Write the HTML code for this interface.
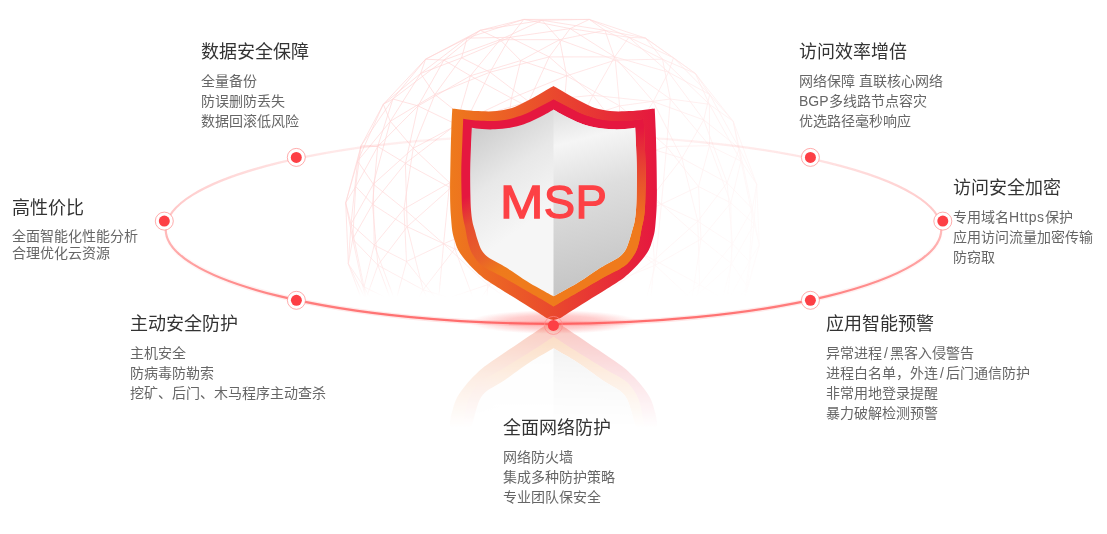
<!DOCTYPE html>
<html lang="zh-CN"><head><meta charset="utf-8">
<style>
html,body{margin:0;padding:0;background:#fff;}
body{width:1107px;height:534px;position:relative;overflow:hidden;font-family:"Liberation Sans",sans-serif;}
svg.bg{position:absolute;left:0;top:0;will-change:transform;}
.blk{position:absolute;white-space:nowrap;will-change:transform;}
.blk h3{margin:0;position:relative;top:0px;font-size:18px;font-weight:normal;color:#333;line-height:24px;}
.blk .sp{height:6.6px}
.blk p{margin:0;font-size:14px;color:#666;line-height:20px;}
</style></head><body>
<svg class="bg" width="1107" height="534" viewBox="0 0 1107 534">
<defs>
<linearGradient id="gfade" x1="0" y1="0" x2="0" y2="1" gradientUnits="objectBoundingBox">
<stop offset="0" stop-color="#fff"/><stop offset="0.8" stop-color="#fff" stop-opacity="0.85"/><stop offset="0.96" stop-color="#fff" stop-opacity="0.5"/><stop offset="1" stop-color="#fff" stop-opacity="0"/>
</linearGradient>
<mask id="globemask" maskUnits="userSpaceOnUse" x="0" y="0" width="1107" height="534">
<rect x="330" y="0" width="450" height="297" fill="url(#gfade)"/>
</mask>
<linearGradient id="gdiag" gradientUnits="userSpaceOnUse" x1="420" y1="100" x2="740" y2="280">
<stop offset="0" stop-color="#fff"/><stop offset="0.3" stop-color="#fff" stop-opacity="0.9"/><stop offset="1" stop-color="#fff" stop-opacity="0.15"/>
</linearGradient>
<mask id="globemask2" maskUnits="userSpaceOnUse" x="0" y="0" width="1107" height="534">
<rect x="330" y="0" width="450" height="300" fill="url(#gdiag)"/>
</mask>
<linearGradient id="ringg" gradientUnits="userSpaceOnUse" x1="0" y1="323" x2="0" y2="136">
<stop offset="0" stop-color="#ff4a4a" stop-opacity="0.78"/>
<stop offset="0.5" stop-color="#ff5a5a" stop-opacity="0.4"/>
<stop offset="0.85" stop-color="#ff6b6b" stop-opacity="0.22"/>
<stop offset="1" stop-color="#ff8080" stop-opacity="0.1"/>
</linearGradient>
<linearGradient id="ringglow" gradientUnits="userSpaceOnUse" x1="0" y1="323" x2="0" y2="230">
<stop offset="0" stop-color="#ff5050" stop-opacity="0.15"/>
<stop offset="1" stop-color="#ff6b6b" stop-opacity="0"/>
</linearGradient>
<radialGradient id="glow" cx="0.5" cy="0.5" r="0.5">
<stop offset="0" stop-color="#ff5050" stop-opacity="0.42"/>
<stop offset="0.55" stop-color="#ff5a5a" stop-opacity="0.3"/>
<stop offset="0.8" stop-color="#ff6060" stop-opacity="0.14"/>
<stop offset="1" stop-color="#ff8080" stop-opacity="0"/>
</radialGradient>
<linearGradient id="outerg" gradientUnits="userSpaceOnUse" x1="450" y1="0" x2="657" y2="0">
<stop offset="0" stop-color="#ee7a1c"/><stop offset="1" stop-color="#e5173f"/>
</linearGradient>
<linearGradient id="midg" gradientUnits="userSpaceOnUse" x1="461" y1="200" x2="511" y2="287">
<stop offset="0" stop-color="#e5173f"/><stop offset="0.25" stop-color="#e64c2f"/><stop offset="0.6" stop-color="#e8602a"/><stop offset="0.8" stop-color="#ee7a1c"/><stop offset="1" stop-color="#ef7b1c"/>
</linearGradient>
<linearGradient id="midgR" gradientUnits="userSpaceOnUse" x1="0" y1="128" x2="0" y2="228">
<stop offset="0" stop-color="#e5173f"/><stop offset="0.3" stop-color="#e63a35"/><stop offset="0.55" stop-color="#e8552c"/><stop offset="1" stop-color="#ef7a1c"/>
</linearGradient>
<linearGradient id="silverL" gradientUnits="userSpaceOnUse" x1="478" y1="128" x2="540" y2="215">
<stop offset="0" stop-color="#cdcdcd"/><stop offset="0.5" stop-color="#e8e8e8"/><stop offset="1" stop-color="#f6f6f6"/>
</linearGradient>
<linearGradient id="silverR" gradientUnits="userSpaceOnUse" x1="565" y1="112" x2="610" y2="285">
<stop offset="0" stop-color="#e2e2e2"/><stop offset="0.17" stop-color="#f5f5f5"/><stop offset="0.45" stop-color="#dedede"/><stop offset="1" stop-color="#c4c4c4"/>
</linearGradient>
<filter id="soft" x="-5%" y="-20%" width="110%" height="140%"><feGaussianBlur stdDeviation="0.45"/></filter>
<clipPath id="clipR"><rect x="553.5" y="0" width="200" height="534"/></clipPath>
<linearGradient id="reflg" x1="0" y1="0" x2="0" y2="1">
<stop offset="0" stop-color="#fff" stop-opacity="0.3"/><stop offset="0.5" stop-color="#fff" stop-opacity="0.13"/><stop offset="1" stop-color="#fff" stop-opacity="0"/>
</linearGradient>
<mask id="reflmask" maskUnits="userSpaceOnUse" x="0" y="0" width="1107" height="534">
<rect x="430" y="322" width="250" height="106" fill="url(#reflg)"/>
</mask>
<g id="shield">
<path d="M553.50 86.00C555.02 86.87 559.52 89.40 562.60 91.20C565.68 93.00 568.68 94.95 572.00 96.80C575.32 98.65 578.67 100.43 582.50 102.30C586.33 104.17 590.42 106.55 595.00 108.00C599.58 109.45 605.00 110.45 610.00 111.00C615.00 111.55 619.83 111.42 625.00 111.30C630.17 111.18 636.05 110.75 641.00 110.30C645.95 109.85 652.42 108.88 654.70 108.60C654.87 112.17 655.40 121.43 655.70 130.00C656.00 138.57 656.30 150.00 656.50 160.00C656.70 170.00 656.87 182.50 656.90 190.00C656.93 197.50 656.83 200.67 656.70 205.00C656.57 209.33 656.43 211.67 656.10 216.00C655.77 220.33 655.33 226.92 654.70 231.00C654.07 235.08 653.28 237.33 652.30 240.50C651.32 243.67 650.55 246.75 648.80 250.00C647.05 253.25 644.52 256.67 641.80 260.00C639.08 263.33 635.38 267.13 632.50 270.00C629.62 272.87 627.08 275.13 624.50 277.20C621.92 279.27 619.92 280.48 617.00 282.40C614.08 284.32 610.33 286.60 607.00 288.70C603.67 290.80 600.33 292.92 597.00 295.00C593.67 297.08 590.33 299.12 587.00 301.20C583.67 303.28 580.50 305.30 577.00 307.50C573.50 309.70 569.00 312.55 566.00 314.40C563.00 316.25 561.08 317.63 559.00 318.60C556.92 319.57 554.42 319.93 553.50 320.20C552.58 319.93 550.08 319.57 548.00 318.60C545.92 317.63 544.00 316.25 541.00 314.40C538.00 312.55 533.50 309.70 530.00 307.50C526.50 305.30 523.33 303.28 520.00 301.20C516.67 299.12 513.33 297.08 510.00 295.00C506.67 292.92 503.33 290.80 500.00 288.70C496.67 286.60 492.92 284.32 490.00 282.40C487.08 280.48 485.08 279.27 482.50 277.20C479.92 275.13 477.38 272.87 474.50 270.00C471.62 267.13 467.92 263.33 465.20 260.00C462.48 256.67 459.95 253.25 458.20 250.00C456.45 246.75 455.68 243.67 454.70 240.50C453.72 237.33 452.93 235.08 452.30 231.00C451.67 226.92 451.23 220.33 450.90 216.00C450.57 211.67 450.43 209.33 450.30 205.00C450.17 200.67 450.07 197.50 450.10 190.00C450.13 182.50 450.30 170.00 450.50 160.00C450.70 150.00 451.00 138.57 451.30 130.00C451.60 121.43 452.13 112.17 452.30 108.60C454.58 108.88 461.05 109.85 466.00 110.30C470.95 110.75 476.83 111.18 482.00 111.30C487.17 111.42 492.00 111.55 497.00 111.00C502.00 110.45 507.42 109.45 512.00 108.00C516.58 106.55 520.67 104.17 524.50 102.30C528.33 100.43 531.68 98.65 535.00 96.80C538.32 94.95 541.32 93.00 544.40 91.20C547.48 89.40 551.98 86.87 553.50 86.00Z" fill="url(#outerg)"/>
<path d="M553.50 99.50C554.92 100.25 558.92 102.37 562.00 104.00C565.08 105.63 568.50 107.53 572.00 109.30C575.50 111.07 578.83 113.00 583.00 114.60C587.17 116.20 592.17 117.83 597.00 118.90C601.83 119.97 606.67 120.72 612.00 121.00C617.33 121.28 623.70 120.98 629.00 120.60C634.30 120.22 641.33 119.02 643.80 118.70C643.93 122.25 644.28 131.45 644.60 140.00C644.92 148.55 645.57 160.83 645.70 170.00C645.83 179.17 645.55 188.33 645.40 195.00C645.25 201.67 645.12 205.83 644.80 210.00C644.48 214.17 644.02 217.00 643.50 220.00C642.98 223.00 642.37 224.67 641.70 228.00C641.03 231.33 640.35 236.33 639.50 240.00C638.65 243.67 637.85 247.00 636.60 250.00C635.35 253.00 633.60 255.67 632.00 258.00C630.40 260.33 628.67 262.42 627.00 264.00C625.33 265.58 623.67 266.40 622.00 267.50C620.33 268.60 619.50 269.25 617.00 270.60C614.50 271.95 610.33 273.83 607.00 275.60C603.67 277.37 600.33 279.32 597.00 281.20C593.67 283.08 590.33 284.98 587.00 286.90C583.67 288.82 580.67 290.58 577.00 292.70C573.33 294.82 568.92 297.28 565.00 299.60C561.08 301.92 555.42 305.43 553.50 306.60C551.58 305.43 545.92 301.92 542.00 299.60C538.08 297.28 533.67 294.82 530.00 292.70C526.33 290.58 523.33 288.82 520.00 286.90C516.67 284.98 513.33 283.08 510.00 281.20C506.67 279.32 503.33 277.37 500.00 275.60C496.67 273.83 492.50 271.95 490.00 270.60C487.50 269.25 486.67 268.60 485.00 267.50C483.33 266.40 481.67 265.58 480.00 264.00C478.33 262.42 476.60 260.33 475.00 258.00C473.40 255.67 471.65 253.00 470.40 250.00C469.15 247.00 468.35 243.67 467.50 240.00C466.65 236.33 465.97 231.33 465.30 228.00C464.63 224.67 464.02 223.00 463.50 220.00C462.98 217.00 462.52 214.17 462.20 210.00C461.88 205.83 461.75 201.67 461.60 195.00C461.45 188.33 461.17 179.17 461.30 170.00C461.43 160.83 462.08 148.55 462.40 140.00C462.72 131.45 463.07 122.25 463.20 118.70C465.67 119.02 472.70 120.22 478.00 120.60C483.30 120.98 489.67 121.28 495.00 121.00C500.33 120.72 505.17 119.97 510.00 118.90C514.83 117.83 519.83 116.20 524.00 114.60C528.17 113.00 531.50 111.07 535.00 109.30C538.50 107.53 541.92 105.63 545.00 104.00C548.08 102.37 552.08 100.25 553.50 99.50Z" fill="url(#midg)"/>
<path d="M553.50 99.50C554.92 100.25 558.92 102.37 562.00 104.00C565.08 105.63 568.50 107.53 572.00 109.30C575.50 111.07 578.83 113.00 583.00 114.60C587.17 116.20 592.17 117.83 597.00 118.90C601.83 119.97 606.67 120.72 612.00 121.00C617.33 121.28 623.70 120.98 629.00 120.60C634.30 120.22 641.33 119.02 643.80 118.70C643.93 122.25 644.28 131.45 644.60 140.00C644.92 148.55 645.57 160.83 645.70 170.00C645.83 179.17 645.55 188.33 645.40 195.00C645.25 201.67 645.12 205.83 644.80 210.00C644.48 214.17 644.02 217.00 643.50 220.00C642.98 223.00 642.37 224.67 641.70 228.00C641.03 231.33 640.35 236.33 639.50 240.00C638.65 243.67 637.85 247.00 636.60 250.00C635.35 253.00 633.60 255.67 632.00 258.00C630.40 260.33 628.67 262.42 627.00 264.00C625.33 265.58 623.67 266.40 622.00 267.50C620.33 268.60 619.50 269.25 617.00 270.60C614.50 271.95 610.33 273.83 607.00 275.60C603.67 277.37 600.33 279.32 597.00 281.20C593.67 283.08 590.33 284.98 587.00 286.90C583.67 288.82 580.67 290.58 577.00 292.70C573.33 294.82 568.92 297.28 565.00 299.60C561.08 301.92 555.42 305.43 553.50 306.60C551.58 305.43 545.92 301.92 542.00 299.60C538.08 297.28 533.67 294.82 530.00 292.70C526.33 290.58 523.33 288.82 520.00 286.90C516.67 284.98 513.33 283.08 510.00 281.20C506.67 279.32 503.33 277.37 500.00 275.60C496.67 273.83 492.50 271.95 490.00 270.60C487.50 269.25 486.67 268.60 485.00 267.50C483.33 266.40 481.67 265.58 480.00 264.00C478.33 262.42 476.60 260.33 475.00 258.00C473.40 255.67 471.65 253.00 470.40 250.00C469.15 247.00 468.35 243.67 467.50 240.00C466.65 236.33 465.97 231.33 465.30 228.00C464.63 224.67 464.02 223.00 463.50 220.00C462.98 217.00 462.52 214.17 462.20 210.00C461.88 205.83 461.75 201.67 461.60 195.00C461.45 188.33 461.17 179.17 461.30 170.00C461.43 160.83 462.08 148.55 462.40 140.00C462.72 131.45 463.07 122.25 463.20 118.70C465.67 119.02 472.70 120.22 478.00 120.60C483.30 120.98 489.67 121.28 495.00 121.00C500.33 120.72 505.17 119.97 510.00 118.90C514.83 117.83 519.83 116.20 524.00 114.60C528.17 113.00 531.50 111.07 535.00 109.30C538.50 107.53 541.92 105.63 545.00 104.00C548.08 102.37 552.08 100.25 553.50 99.50Z" fill="url(#midgR)" clip-path="url(#clipR)"/>
<path d="M553.50 109.60C554.92 110.43 558.92 112.93 562.00 114.60C565.08 116.27 568.50 118.00 572.00 119.60C575.50 121.20 578.83 122.83 583.00 124.20C587.17 125.57 592.17 126.95 597.00 127.80C601.83 128.65 607.33 129.08 612.00 129.30C616.67 129.52 621.13 129.37 625.00 129.10C628.87 128.83 633.50 127.93 635.20 127.70C635.33 130.58 635.73 137.95 636.00 145.00C636.27 152.05 636.70 161.67 636.80 170.00C636.90 178.33 636.73 188.33 636.60 195.00C636.47 201.67 636.35 205.50 636.00 210.00C635.65 214.50 635.12 218.67 634.50 222.00C633.88 225.33 633.15 227.00 632.30 230.00C631.45 233.00 630.53 236.67 629.40 240.00C628.27 243.33 627.15 247.20 625.50 250.00C623.85 252.80 621.67 254.97 619.50 256.80C617.33 258.63 614.92 259.63 612.50 261.00C610.08 262.37 607.58 263.50 605.00 265.00C602.42 266.50 600.00 268.03 597.00 270.00C594.00 271.97 590.33 274.58 587.00 276.80C583.67 279.02 580.67 281.10 577.00 283.30C573.33 285.50 568.92 287.83 565.00 290.00C561.08 292.17 555.42 295.25 553.50 296.30C551.58 295.25 545.92 292.17 542.00 290.00C538.08 287.83 533.67 285.50 530.00 283.30C526.33 281.10 523.33 279.02 520.00 276.80C516.67 274.58 513.00 271.97 510.00 270.00C507.00 268.03 504.58 266.50 502.00 265.00C499.42 263.50 496.92 262.37 494.50 261.00C492.08 259.63 489.67 258.63 487.50 256.80C485.33 254.97 483.15 252.80 481.50 250.00C479.85 247.20 478.73 243.33 477.60 240.00C476.47 236.67 475.55 233.00 474.70 230.00C473.85 227.00 473.12 225.33 472.50 222.00C471.88 218.67 471.35 214.50 471.00 210.00C470.65 205.50 470.53 201.67 470.40 195.00C470.27 188.33 470.10 178.33 470.20 170.00C470.30 161.67 470.73 152.05 471.00 145.00C471.27 137.95 471.67 130.58 471.80 127.70C473.50 127.93 478.13 128.83 482.00 129.10C485.87 129.37 490.33 129.52 495.00 129.30C499.67 129.08 505.17 128.65 510.00 127.80C514.83 126.95 519.83 125.57 524.00 124.20C528.17 122.83 531.50 121.20 535.00 119.60C538.50 118.00 541.92 116.27 545.00 114.60C548.08 112.93 552.08 110.43 553.50 109.60Z" fill="url(#silverL)"/>
<path d="M553.50 109.60C554.92 110.43 558.92 112.93 562.00 114.60C565.08 116.27 568.50 118.00 572.00 119.60C575.50 121.20 578.83 122.83 583.00 124.20C587.17 125.57 592.17 126.95 597.00 127.80C601.83 128.65 607.33 129.08 612.00 129.30C616.67 129.52 621.13 129.37 625.00 129.10C628.87 128.83 633.50 127.93 635.20 127.70C635.33 130.58 635.73 137.95 636.00 145.00C636.27 152.05 636.70 161.67 636.80 170.00C636.90 178.33 636.73 188.33 636.60 195.00C636.47 201.67 636.35 205.50 636.00 210.00C635.65 214.50 635.12 218.67 634.50 222.00C633.88 225.33 633.15 227.00 632.30 230.00C631.45 233.00 630.53 236.67 629.40 240.00C628.27 243.33 627.15 247.20 625.50 250.00C623.85 252.80 621.67 254.97 619.50 256.80C617.33 258.63 614.92 259.63 612.50 261.00C610.08 262.37 607.58 263.50 605.00 265.00C602.42 266.50 600.00 268.03 597.00 270.00C594.00 271.97 590.33 274.58 587.00 276.80C583.67 279.02 580.67 281.10 577.00 283.30C573.33 285.50 568.92 287.83 565.00 290.00C561.08 292.17 555.42 295.25 553.50 296.30C551.58 295.25 545.92 292.17 542.00 290.00C538.08 287.83 533.67 285.50 530.00 283.30C526.33 281.10 523.33 279.02 520.00 276.80C516.67 274.58 513.00 271.97 510.00 270.00C507.00 268.03 504.58 266.50 502.00 265.00C499.42 263.50 496.92 262.37 494.50 261.00C492.08 259.63 489.67 258.63 487.50 256.80C485.33 254.97 483.15 252.80 481.50 250.00C479.85 247.20 478.73 243.33 477.60 240.00C476.47 236.67 475.55 233.00 474.70 230.00C473.85 227.00 473.12 225.33 472.50 222.00C471.88 218.67 471.35 214.50 471.00 210.00C470.65 205.50 470.53 201.67 470.40 195.00C470.27 188.33 470.10 178.33 470.20 170.00C470.30 161.67 470.73 152.05 471.00 145.00C471.27 137.95 471.67 130.58 471.80 127.70C473.50 127.93 478.13 128.83 482.00 129.10C485.87 129.37 490.33 129.52 495.00 129.30C499.67 129.08 505.17 128.65 510.00 127.80C514.83 126.95 519.83 125.57 524.00 124.20C528.17 122.83 531.50 121.20 535.00 119.60C538.50 118.00 541.92 116.27 545.00 114.60C548.08 112.93 552.08 110.43 553.50 109.60Z" fill="url(#silverR)" clip-path="url(#clipR)"/>
</g>
</defs>
<g mask="url(#globemask2)"><g mask="url(#globemask)" stroke="#ff8080" stroke-width="0.7" fill="none" opacity="0.34">
<path d="M559.6 39.7L542.1 20.3M615.3 60.1L566.7 75.8M654.3 260.1L648.6 323.6M733.2 121.3L741.0 161.1M500.1 39.7L480.3 30.3M602.9 181.9L569.4 141.9M392.9 99.0L443.9 60.1M500.1 39.7L443.9 60.1M377.7 146.5L405.4 163.3M576.3 346.4L594.6 289.8M645.5 38.1L695.4 73.5M661.4 204.2L608.7 226.7M365.7 299.7L352.7 239.1M619.6 105.9L617.3 163.3M608.7 226.7L551.0 248.9M461.6 57.8L509.9 37.3M355.7 186.5L352.7 239.1M673.5 57.8L668.5 72.2M670.3 99.0L615.3 60.1M628.9 141.9L592.9 95.3M373.3 184.2L357.6 161.1M502.1 266.1L501.1 213.5M520.7 60.6L500.1 39.7M520.7 60.6L470.4 75.8M698.5 186.5L661.4 204.2M570.1 28.6L549.2 56.9M730.8 202.9L741.0 161.1M752.3 208.9L727.1 182.8M407.2 226.7L372.5 204.2M655.3 265.2L638.3 328.1M654.3 260.1L699.6 284.7M653.2 101.6L681.9 158.2M709.5 145.7L670.3 99.0M604.9 30.3L662.5 59.2M372.5 204.2L377.9 265.2M480.3 30.3L443.9 60.1M668.5 72.2L709.7 94.5M449.7 182.8L413.2 148.3M670.3 99.0L619.6 105.9M351.0 224.0L364.0 286.9M470.4 75.8L511.5 98.2M559.6 39.7L566.7 75.8M466.7 119.9L490.0 72.2M661.4 204.2L655.3 265.2M698.5 186.5L666.6 146.5M365.7 299.7L348.3 263.8M434.9 94.5L390.3 121.3M653.2 101.6L614.7 56.9M451.8 346.4L423.1 289.8M732.5 243.8L699.6 284.7M407.2 226.7L405.4 163.3M655.3 265.2L691.8 299.7M510.4 158.2L466.7 119.9M500.1 39.7L542.1 20.3M348.3 263.8L364.0 286.9M377.9 265.2L401.3 328.1M603.9 234.5L654.3 260.1M496.3 221.3L443.6 243.8M602.9 181.9L603.9 234.5M504.2 152.7L450.7 187.9M401.3 328.1L423.1 289.8M443.6 243.8L406.5 261.5M355.7 186.5L377.7 146.5M511.5 98.2L456.4 124.4M666.6 146.5L670.3 99.0M730.8 202.9L731.7 263.8M668.5 72.2L703.7 119.9M554.0 199.1L603.9 234.5M377.7 146.5L418.1 105.9M600.8 295.3L548.4 260.1M741.0 161.1L756.7 184.2M383.3 104.3L420.6 73.5M548.4 260.1L603.9 234.5M559.6 39.7L615.3 60.1M466.7 119.9L413.2 148.3M361.1 145.7L345.7 202.9M496.3 221.3L449.7 182.8M501.1 213.5L551.0 248.9M438.4 301.5L487.7 284.7M425.6 59.2L420.6 73.5M406.5 261.5L395.5 302.3M701.0 239.1L655.3 265.2M701.0 239.1L731.7 263.8M593.5 349.8L600.8 295.3M371.8 326.7L348.3 263.8M352.7 239.1L377.9 265.2M510.4 158.2L528.7 101.6M470.4 75.8L456.4 124.4M673.5 57.8L695.4 73.5M754.0 224.0L747.4 286.9M361.1 145.7L383.3 104.3M709.5 145.7L730.8 202.9M566.7 75.8L562.4 124.4M739.3 148.3L733.2 121.3M434.9 94.5L420.6 73.5M528.7 101.6L466.7 119.9M569.4 141.9L592.9 95.3M681.9 158.2L703.7 119.9M351.0 224.0L348.3 263.8M383.3 104.3L425.6 59.2M589.3 19.4L523.8 19.4M759.3 245.1L756.7 184.2M697.8 221.3L681.9 158.2M668.5 72.2L653.2 101.6M520.7 60.6L511.5 98.2M562.4 124.4L617.3 163.3M374.2 245.1L395.5 302.3M650.2 199.1L654.3 260.1M470.4 75.8L443.9 60.1M357.6 161.1L390.3 121.3M662.5 59.2L615.3 60.1M749.3 261.5L759.3 245.1M691.8 299.7L714.7 326.7M604.9 30.3L589.3 19.4M619.6 105.9L566.7 75.8M404.0 208.9L374.2 245.1M501.1 213.5L504.2 152.7M413.2 148.3L390.3 121.3M754.0 224.0L730.8 202.9M549.2 56.9L509.9 37.3M490.0 72.2L509.9 37.3M504.2 152.7L511.5 98.2M554.0 199.1L569.4 141.9M709.5 145.7L741.0 161.1M502.1 266.1L476.1 306.1M374.2 245.1L373.3 184.2M709.4 104.3L662.5 59.2M727.1 182.8L681.9 158.2M351.0 224.0L357.6 161.1M405.4 163.3L372.5 204.2M628.9 141.9L681.9 158.2M628.9 37.3L570.1 28.6M743.9 302.3L747.4 286.9M602.9 181.9L628.9 141.9M628.9 37.3L589.3 19.4M542.1 20.3L589.3 19.4M614.7 56.9L549.2 56.9M602.9 181.9L650.2 199.1M732.5 243.8L752.3 208.9M759.3 245.1L754.0 224.0M467.0 38.1L425.6 59.2M697.8 221.3L727.1 182.8M454.8 248.9L407.2 226.7M562.4 124.4L556.6 187.9M443.6 243.8L438.4 301.5M559.6 39.7L500.1 39.7M569.4 141.9L510.4 158.2M450.7 187.9L405.4 163.3M511.5 98.2L562.4 124.4M535.6 306.1L551.0 248.9M691.8 299.7L731.7 263.8M604.9 30.3L542.1 20.3M413.2 148.3L434.9 94.5M699.6 284.7L648.6 323.6M407.2 226.7L377.9 265.2M600.8 295.3L654.3 260.1M490.0 72.2L461.6 57.8M490.0 72.2L549.2 56.9M496.3 221.3L487.7 284.7M709.4 104.3L670.3 99.0M695.4 73.5L733.2 121.3M594.6 289.8L638.3 328.1M345.7 202.9L352.7 239.1M645.5 38.1L662.5 59.2M420.6 73.5L390.3 121.3M608.7 226.7L594.6 289.8M747.4 286.9L714.7 326.7M721.7 343.7L747.4 286.9M570.1 28.6L589.3 19.4M418.1 105.9L470.4 75.8M673.5 57.8L628.9 37.3M749.3 261.5L727.3 301.5M673.5 57.8L645.5 38.1M709.5 145.7L666.6 146.5M619.6 105.9L562.4 124.4M502.1 266.1L454.8 248.9M661.4 204.2L617.3 163.3M501.1 213.5L556.6 187.9M698.5 186.5L701.0 239.1M542.6 323.6L548.4 260.1M449.7 182.8L466.7 119.9M666.6 146.5L661.4 204.2M670.3 99.0L662.5 59.2M355.7 186.5L372.5 204.2M404.0 208.9L413.2 148.3M392.9 99.0L425.6 59.2M661.4 204.2L701.0 239.1M365.7 299.7L371.8 326.7M608.7 226.7L655.3 265.2M443.6 243.8L404.0 208.9M747.4 286.9L731.7 263.8M511.5 98.2L566.7 75.8M686.9 342.1L699.6 284.7M352.7 239.1L348.3 263.8M454.8 248.9L450.7 187.9M461.6 57.8L420.6 73.5M655.3 265.2L594.6 289.8M697.8 221.3L699.6 284.7M345.7 202.9L348.3 263.8M500.1 39.7L470.4 75.8M749.3 261.5L732.5 243.8M698.5 186.5L730.8 202.9M542.6 323.6L600.8 295.3M554.0 199.1L548.4 260.1M752.3 208.9L739.3 148.3M653.2 101.6L703.7 119.9M739.3 148.3L709.7 94.5M392.9 99.0L383.3 104.3M496.3 221.3L510.4 158.2M752.3 208.9L756.7 184.2M604.9 30.3L615.3 60.1M520.7 60.6L559.6 39.7M480.3 30.3L467.0 38.1M443.6 243.8L449.7 182.8M480.3 30.3L425.6 59.2M355.7 186.5L361.1 145.7M653.2 101.6L628.9 141.9M377.7 146.5L392.9 99.0M528.7 101.6L549.2 56.9M345.7 202.9L357.6 161.1M754.0 224.0L756.7 184.2M551.0 248.9L556.6 187.9M650.2 199.1L681.9 158.2M509.9 37.3L467.0 38.1M418.1 105.9L405.4 163.3M645.5 38.1L589.3 19.4M709.4 104.3L741.0 161.1M739.3 148.3L703.7 119.9M698.5 186.5L709.5 145.7M695.4 73.5L662.5 59.2M650.2 199.1L603.9 234.5M480.3 30.3L523.8 19.4M749.3 261.5L752.3 208.9M355.7 186.5L345.7 202.9M666.6 146.5L619.6 105.9M374.2 245.1L364.0 286.9M701.0 239.1L730.8 202.9M377.7 146.5L361.1 145.7M556.6 187.9L617.3 163.3M510.4 158.2L449.7 182.8M619.6 105.9L615.3 60.1M592.9 95.3L549.2 56.9M361.1 145.7L392.9 99.0M754.0 224.0L741.0 161.1M466.7 119.9L434.9 94.5M361.1 145.7L357.6 161.1M395.3 353.5L365.7 299.7M668.5 72.2L614.7 56.9M509.9 37.3L523.8 19.4M476.1 306.1L423.1 289.8M406.5 261.5L438.4 301.5M456.4 124.4L405.4 163.3M701.0 239.1L691.8 299.7M351.0 224.0L373.3 184.2M365.7 299.7L401.3 328.1M653.2 101.6L592.9 95.3M691.8 299.7L670.1 353.5M371.8 326.7L364.0 286.9M673.5 57.8L709.7 94.5M709.4 104.3L733.2 121.3M454.8 248.9L423.1 289.8M404.0 208.9L373.3 184.2M383.3 104.3L390.3 121.3M501.1 213.5L450.7 187.9M614.7 56.9L570.1 28.6M752.3 208.9L759.3 245.1M377.9 265.2L423.1 289.8M504.2 152.7L456.4 124.4M709.7 94.5L695.4 73.5M739.3 148.3L756.7 184.2M502.1 266.1L535.6 306.1M520.7 60.6L566.7 75.8M454.8 248.9L476.1 306.1M450.7 187.9L407.2 226.7M528.7 101.6L490.0 72.2M528.7 101.6L592.9 95.3M600.8 295.3L603.9 234.5M413.2 148.3L373.3 184.2M490.0 72.2L434.9 94.5M551.0 248.9L594.6 289.8M434.9 94.5L461.6 57.8M406.5 261.5L374.2 245.1M374.2 245.1L351.0 224.0M668.5 72.2L628.9 37.3M732.5 243.8L727.3 301.5M749.3 261.5L743.9 302.3M443.6 243.8L487.7 284.7M365.7 299.7L377.9 265.2M569.4 141.9L528.7 101.6M351.0 224.0L345.7 202.9M395.6 343.7L364.0 286.9M569.4 141.9L628.9 141.9M418.1 105.9L456.4 124.4M535.6 306.1L594.6 289.8M691.8 299.7L638.3 328.1M628.9 37.3L614.7 56.9M364.0 286.9L395.5 302.3M383.3 104.3L357.6 161.1M501.1 213.5L454.8 248.9M614.7 56.9L592.9 95.3M754.0 224.0L731.7 263.8M732.5 243.8L697.8 221.3M697.8 221.3L650.2 199.1M502.1 266.1L551.0 248.9M727.1 182.8L703.7 119.9M731.7 263.8L714.7 326.7M559.6 39.7L604.9 30.3M450.7 187.9L456.4 124.4M604.9 30.3L645.5 38.1M542.1 20.3L523.8 19.4M485.4 342.1L487.7 284.7M406.5 261.5L404.0 208.9M759.3 245.1L747.4 286.9M554.0 199.1L496.3 221.3M608.7 226.7L617.3 163.3M709.4 104.3L695.4 73.5M418.1 105.9L443.9 60.1M352.7 239.1L372.5 204.2M504.2 152.7L556.6 187.9M487.7 284.7L548.4 260.1M666.6 146.5L617.3 163.3M733.2 121.3L756.7 184.2M628.9 141.9L650.2 199.1M377.7 146.5L372.5 204.2M743.9 302.3L759.3 245.1M628.9 37.3L645.5 38.1M407.2 226.7L423.1 289.8M600.8 295.3L648.6 323.6M443.9 60.1L425.6 59.2M554.0 199.1L510.4 158.2M496.3 221.3L548.4 260.1M461.6 57.8L467.0 38.1M727.1 182.8L739.3 148.3M709.7 94.5L733.2 121.3M727.3 301.5L699.6 284.7M703.7 119.9L709.7 94.5M697.8 221.3L654.3 260.1M602.9 181.9L554.0 199.1M373.3 184.2L390.3 121.3M709.5 145.7L709.4 104.3M542.1 20.3L480.3 30.3M523.8 19.4L467.0 38.1M732.5 243.8L727.1 182.8M570.1 28.6L509.9 37.3M570.1 28.6L523.8 19.4M608.7 226.7L556.6 187.9M542.6 323.6L487.7 284.7M467.0 38.1L420.6 73.5M418.1 105.9L392.9 99.0M504.2 152.7L562.4 124.4M449.7 182.8L404.0 208.9"/>

</g></g>
<path d="M165.7 229.4 A387.8 94.4 0 1 0 941.3 229.4 A387.8 94.4 0 1 0 165.7 229.4 Z" fill="none" stroke="url(#ringglow)" stroke-width="5"/>
<path d="M165.7 229.4 A387.8 94.4 0 1 0 941.3 229.4 A387.8 94.4 0 1 0 165.7 229.4 Z" fill="none" stroke="url(#ringg)" stroke-width="2.2" filter="url(#soft)"/>
<ellipse cx="553.5" cy="322" rx="86" ry="12" fill="url(#glow)"/>
<g mask="url(#reflmask)"><use href="#shield" transform="translate(553.5,321) scale(1.02,-1.1) translate(-553.5,-321)"/></g>
<use href="#shield"/>
<g font-family="Liberation Sans" font-size="47" fill="#fd4145" stroke="#fd4145" stroke-width="1.3">
<text x="0" y="218" transform="translate(499.9,0) scale(1.11,1)">M</text>
<text x="543.8" y="218">S</text>
<text x="575.4" y="218">P</text>
</g>
<g fill="#fff" stroke="#f88" stroke-width="0.7"><circle cx="296.3" cy="157.4" r="9"/><circle cx="164.3" cy="221.1" r="9"/><circle cx="296.4" cy="300.3" r="9"/><circle cx="553.4" cy="325.4" r="9" fill-opacity="0"/><circle cx="810.4" cy="300.3" r="9"/><circle cx="942.8" cy="221.1" r="9"/><circle cx="810.4" cy="157.4" r="9"/></g>
<g fill="#fd3f45"><circle cx="296.3" cy="157.4" r="5.5"/><circle cx="164.3" cy="221.1" r="5.5"/><circle cx="296.4" cy="300.3" r="5.5"/><circle cx="553.4" cy="325.4" r="5.5"/><circle cx="810.4" cy="300.3" r="5.5"/><circle cx="942.8" cy="221.1" r="5.5"/><circle cx="810.4" cy="157.4" r="5.5"/></g>
</svg>
<div class="blk" style="left:201px;top:40px"><h3>数据安全保障</h3><div class="sp"></div><p style="line-height:20px">全量备份<br>防误删防丢失<br>数据回滚低风险</p></div>
<div class="blk" style="left:12px;top:196px"><h3>高性价比</h3><div class="sp"></div><p style="line-height:17.5px;margin-top:1px">全面智能化性能分析<br>合理优化云资源</p></div>
<div class="blk" style="left:130px;top:312px"><h3>主动安全防护</h3><div class="sp"></div><p style="line-height:20px">主机安全<br>防病毒防勒索<br>挖矿、后门、木马程序主动查杀</p></div>
<div class="blk" style="left:503px;top:416px"><h3>全面网络防护</h3><div class="sp"></div><p style="line-height:20px">网络防火墙<br>集成多种防护策略<br>专业团队保安全</p></div>
<div class="blk" style="left:826px;top:312px"><h3>应用智能预警</h3><div class="sp"></div><p style="line-height:20px">异常进程<span style="padding:0 2px">/</span>黑客入侵警告<br>进程白名单，外连<span style="padding:0 2px">/</span>后门通信防护<br>非常用地登录提醒<br>暴力破解检测预警</p></div>
<div class="blk" style="left:953px;top:176px"><h3>访问安全加密</h3><div class="sp"></div><p style="line-height:20px">专用域名<span style="letter-spacing:0.6px">Https</span>保护<br>应用访问流量加密传输<br>防窃取</p></div>
<div class="blk" style="left:799px;top:40px"><h3>访问效率增倍</h3><div class="sp"></div><p style="line-height:20px">网络保障 直联核心网络<br>BGP多线路节点容灾<br>优选路径毫秒响应</p></div>

</body></html>
